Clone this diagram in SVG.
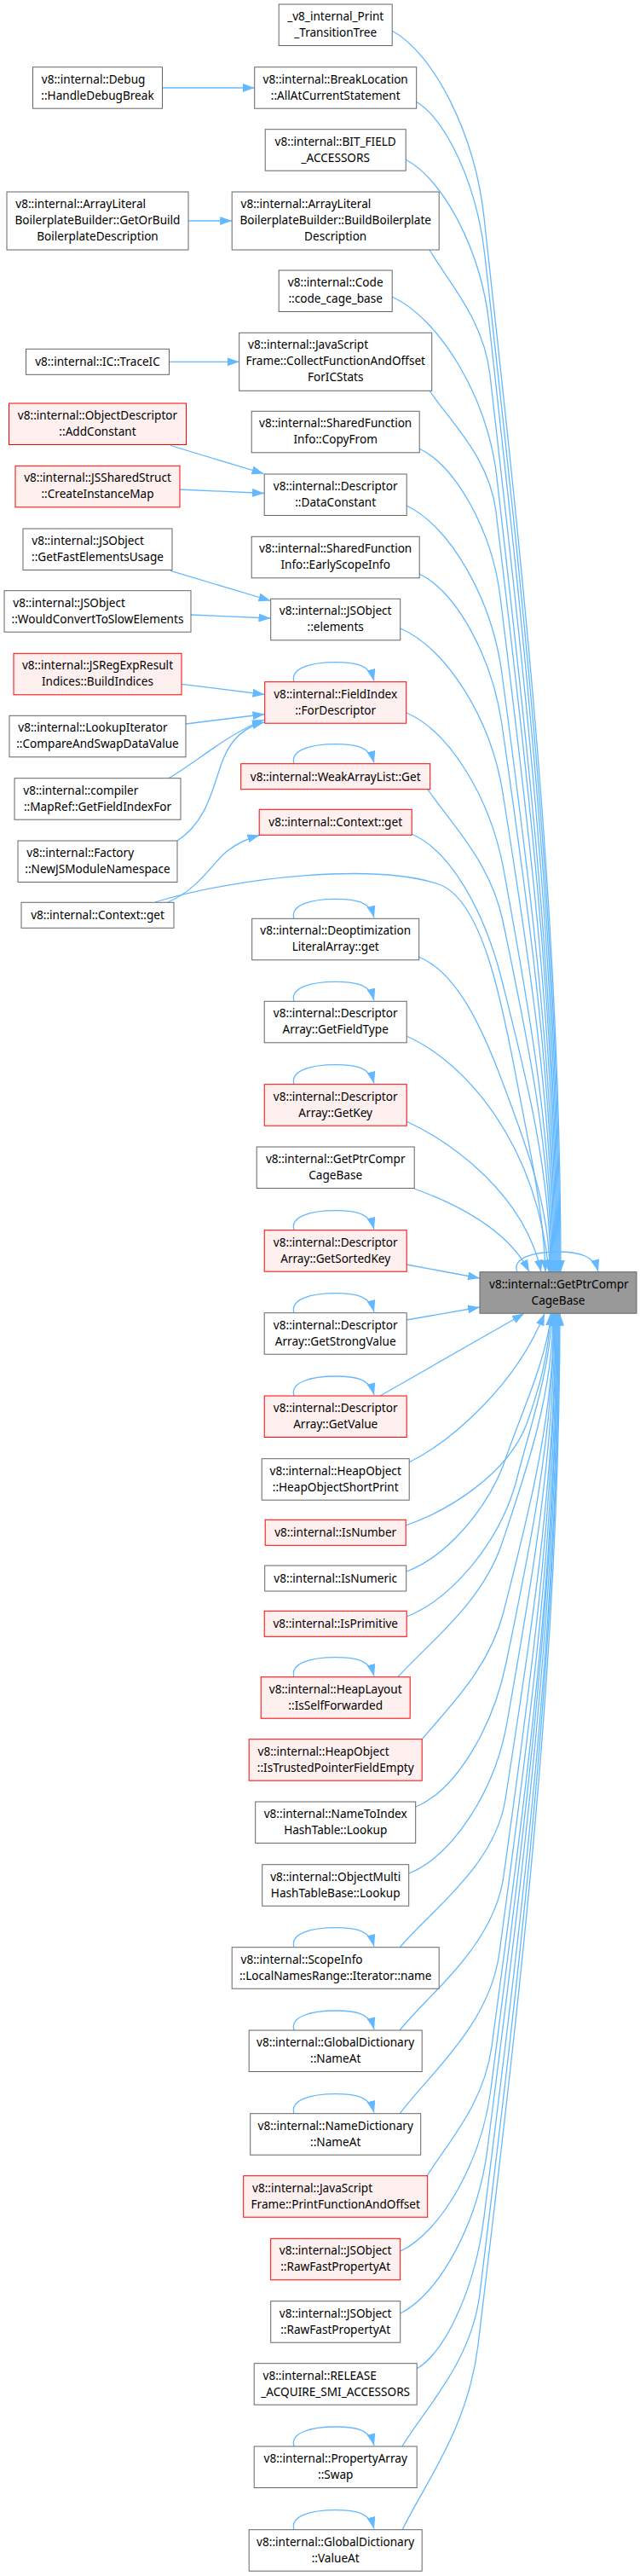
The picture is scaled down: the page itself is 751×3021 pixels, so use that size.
<svg xmlns="http://www.w3.org/2000/svg" width="751" height="3021" viewBox="0 0 751 3021">
<style>
.w{fill:#ffffff;stroke:#666666;stroke-width:1}
.r{fill:#fff0f0;stroke:#ff0000;stroke-width:1}
.m{fill:#999999;stroke:#666666;stroke-width:1}
text{font-family:"Noto Sans","Liberation Sans",sans-serif;font-size:13.6px;fill:#000000}
.c{text-anchor:middle}
.e path{fill:none;stroke:#63b8ff;stroke-width:1.3;marker-end:url(#a)}
</style>
<defs>
<marker id="a" markerUnits="userSpaceOnUse" markerWidth="14" markerHeight="10" refX="14" refY="5" orient="auto" viewBox="0 0 14 10">
<path d="M0,0 L14,5 L0,10 z" fill="#63b8ff"/>
</marker>
</defs>
<rect width="751" height="3021" fill="#ffffff"/>
<g class="e" id="connectors">
<!-- left to middle -->
<path d="M190.5,103 L298.7,103"/>
<path d="M221,259 L272.2,259"/>
<path d="M198.5,424.3 L280.7,424.3"/>
<path d="M200,522.5 L309.5,555.5"/>
<path d="M211,574 L310,578.5"/>
<path d="M200,669.3 L317.5,704.5"/>
<path d="M224,721 L317.5,725"/>
<path d="M213,802.3 L310.5,814.5"/>
<path d="M218,849 L310.5,837.5"/>
<path d="M197.5,913 C232,893 265,862 310,844"/>
<path d="M208,986 C245,962 250,920 262,890 C272,865 288,852 310,847"/>
<path d="M197,1058 C235,1042 250,1010 268,997 C280,988 292,983 304.5,979.5"/>
<!-- upper to main -->
<path d="M460,36 C508.6,62.3 557.3,156.4 568,255 C608.5,625.8 658,1058.4 658,1491.5"/>
<path d="M488,119 C524.5,140.7 560,218.5 569,300 C608.6,657.3 657,1074.1 657,1491.5"/>
<path d="M476,187 C520.1,210.2 564.4,293.1 574,380 C610.9,713.3 656,1102.1 656,1491.5"/>
<path d="M504,293 C525.3,329.8 567.5,373.8 575,440 C611,755.3 655,1123.1 655,1491.5"/>
<path d="M460,348 C515.4,373.4 572,464.6 583,560 C615,839.3 654,1165.1 654,1491.5"/>
<path d="M504,458 C527.4,493.5 574.3,536.1 582,600 C614,867.3 653,1179.1 653,1491.5"/>
<path d="M492,526 C534.8,546.9 577.4,621.7 587,700 C616.3,937.3 652,1214.1 652,1491.5"/>
<path d="M477,593 C527.4,616.6 577.2,701.3 589,790 C616.9,1000.3 651,1245.6 651,1491.5"/>
<path d="M492,673 C535.7,694.2 577.6,770.3 589,850 C616.5,1042.3 650,1266.6 650,1491.5"/>
<path d="M470,737 C524,760.2 576.3,843.1 590,930 C616.6,1098.3 649,1294.6 649,1491.5"/>
<path d="M477,836 C528.3,858.1 575.9,937.2 591,1020 C616.7,1161.3 648,1326.1 648,1491.5"/>
<path d="M502,926 C528.4,964.5 575.6,1010.7 590,1080 C615.7,1203.3 647,1347.1 647,1491.5"/>
<path d="M483,978 C530.7,998.6 569.6,1072.6 589,1150 C614.7,1252.3 646,1371.6 646,1491.5"/>
<path d="M182,1058 C280,1028 440,1012 515,1037 C565,1055 588,1170 605,1260 C620,1340 638,1420 640,1491.5"/>
<path d="M491,1122 C535.6,1139.8 565.1,1203.4 590,1270 C614.8,1336.3 645,1413.6 645,1491.5"/>
<path d="M477,1215 C545,1245 630,1340 644,1491.5"/>
<path d="M477,1315 C530,1340 615,1400 635,1491.5"/>
<path d="M486,1394 C530,1410 595,1440 621,1491.5"/>
<path d="M477,1483 L563,1499"/>
<!-- lower to main -->
<path d="M477,1548 L563,1533"/>
<path d="M446,1637 L615,1540.5"/>
<path d="M480,1715 C530,1690 605,1625 639,1540.5"/>
<path d="M476,1789 C525,1772 595,1730 618,1670 C632,1630 644,1590 646,1540.5"/>
<path d="M477,1843 C525,1825 570,1770 590,1720 C610,1660 640,1600 647,1540.5"/>
<path d="M477,1896 C530,1875 585,1810 605,1740 C620,1680 645,1610 648,1540.5"/>
<path d="M467,1966.5 C503.6,1926.2 565.6,1879.8 589,1810 C616,1729.6 649,1635.8 649,1540.5"/>
<path d="M495,2040 C524.5,2004 573.6,1958.4 591,1890 C617.6,1785.6 650,1663.8 650,1540.5"/>
<path d="M488,2119 C535.7,2098.7 578.3,2026 594,1950 C619.2,1827.6 650,1684.8 650,1540.5"/>
<path d="M480,2197 C531.8,2175.8 581,2099.7 595,2020 C620.2,1876.6 651,1709.3 651,1540.5"/>
<path d="M469,2284 C506.2,2239.8 580.9,2187.9 593,2110 C619.6,1939.6 652,1740.8 652,1540.5"/>
<path d="M469,2381 C505.6,2335.8 579.7,2281.5 591,2200 C618.5,2002.6 652,1772.3 652,1540.5"/>
<path d="M469,2479 C504.1,2431.8 574.5,2375 586,2290 C616.2,2065.6 653,1803.8 653,1540.5"/>
<path d="M501,2552 C524.2,2514 567.8,2468.4 577,2400 C611.7,2142.6 654,1842.3 654,1540.5"/>
<path d="M470,2640 C517.7,2617.2 565,2535.5 576,2450 C611.1,2177.6 654,1859.8 654,1540.5"/>
<path d="M470,2713 C515.9,2689.8 561,2606.9 572,2520 C609.4,2226.6 655,1884.3 655,1540.5"/>
<path d="M489,2778 C524.6,2756.6 558,2680.1 568,2600 C607.6,2282.6 656,1912.3 656,1540.5"/>
<path d="M472,2869 C499.3,2823.5 553.2,2770.1 563,2690 C604.9,2345.6 656,1943.8 656,1540.5"/>
<path d="M472,2967 C498.7,2912 549.4,2847.2 561,2750 C604.2,2387.6 657,1964.8 657,1540.5"/>
<!-- self loops -->
<path d="M607,1491.7 C600,1476 625,1468 655,1468 C680,1468 697,1473 702,1491"/>
<path d="M345,799.7 C340,783.7 365,776.7 394,776.7 C418,776.7 434,779.7 439,798.7"/>
<path d="M345,895.7 C340,879.7 365,872.7 394,872.7 C418,872.7 434,875.7 439,894.7"/>
<path d="M345,1077.3 C340,1061.3 365,1054.3 394,1054.3 C418,1054.3 434,1057.3 439,1076.3"/>
<path d="M345,1174.3 C340,1158.3 365,1151.3 394,1151.3 C418,1151.3 434,1154.3 439,1173.3"/>
<path d="M345,1271.7 C340,1255.7 365,1248.7 394,1248.7 C418,1248.7 434,1251.7 439,1270.7"/>
<path d="M345,1442.7 C340,1426.7 365,1419.7 394,1419.7 C418,1419.7 434,1422.7 439,1441.7"/>
<path d="M345,1539.7 C340,1523.7 365,1516.7 394,1516.7 C418,1516.7 434,1519.7 439,1538.7"/>
<path d="M345,1637 C340,1621 365,1614 394,1614 C418,1614 434,1617 439,1636"/>
<path d="M345,1966.7 C340,1950.7 365,1943.7 394,1943.7 C418,1943.7 434,1946.7 439,1965.7"/>
<path d="M345,2283.7 C340,2267.7 365,2260.7 394,2260.7 C418,2260.7 434,2263.7 439,2282.7"/>
<path d="M345,2381 C340,2365 365,2358 394,2358 C418,2358 434,2361 439,2380"/>
<path d="M345,2478.7 C340,2462.7 365,2455.7 394,2455.7 C418,2455.7 434,2458.7 439,2477.7"/>
<path d="M345,2869 C340,2853 365,2846 394,2846 C418,2846 434,2849 439,2868"/>
<path d="M345,2966.7 C340,2950.7 365,2943.7 394,2943.7 C418,2943.7 434,2946.7 439,2965.7"/>
</g>
<g id="node_main"><rect class="m" x="563" y="1491.7" width="184" height="48.5"/><text x="574" y="1510.7">v8::internal::GetPtrCompr</text><text class="c" x="655" y="1529.7">CageBase</text></g>
<g id="node_print"><rect class="w" x="327.2" y="5" width="133" height="48.5"/><text class="c" x="393.7" y="24">_v8_internal_Print</text><text class="c" x="393.7" y="43">_TransitionTree</text></g>
<g id="node_debug"><rect class="w" x="38.5" y="78.7" width="152" height="48.5"/><text x="48.8" y="97.7">v8::internal::Debug</text><text class="c" x="114.5" y="116.7">::HandleDebugBreak</text></g>
<g id="node_breakloc"><rect class="w" x="298.7" y="78.7" width="190" height="48.5"/><text class="c" x="393.7" y="97.7">v8::internal::BreakLocation</text><text class="c" x="393.7" y="116.7">::AllAtCurrentStatement</text></g>
<g id="node_bitfield"><rect class="w" x="311.2" y="151.7" width="165" height="48.5"/><text class="c" x="393.7" y="170.7">v8::internal::BIT_FIELD</text><text class="c" x="393.7" y="189.7">_ACCESSORS</text></g>
<g id="node_getorbuild"><rect class="w" x="8" y="225" width="213" height="68"/><text x="18.3" y="244">v8::internal::ArrayLiteral</text><text class="c" x="114.5" y="263">BoilerplateBuilder::GetOrBuild</text><text class="c" x="114.5" y="282">BoilerplateDescription</text></g>
<g id="node_buildboiler"><rect class="w" x="272.2" y="225" width="243" height="68"/><text x="282.5" y="244">v8::internal::ArrayLiteral</text><text class="c" x="393.7" y="263">BoilerplateBuilder::BuildBoilerplate</text><text class="c" x="393.7" y="282">Description</text></g>
<g id="node_code"><rect class="w" x="327.2" y="317" width="133" height="48.5"/><text class="c" x="393.7" y="336">v8::internal::Code</text><text class="c" x="393.7" y="355">::code_cage_base</text></g>
<g id="node_traceic"><rect class="w" x="30.5" y="409.3" width="168" height="30"/><text class="c" x="114.5" y="429.3">v8::internal::IC::TraceIC</text></g>
<g id="node_collect"><rect class="w" x="280.7" y="390.3" width="226" height="68"/><text x="291" y="409.3">v8::internal::JavaScript</text><text class="c" x="393.7" y="428.3">Frame::CollectFunctionAndOffset</text><text class="c" x="393.7" y="447.3">ForICStats</text></g>
<g id="node_addconst"><rect class="r" x="10.5" y="473" width="208" height="48.5"/><text class="c" x="114.5" y="492">v8::internal::ObjectDescriptor</text><text class="c" x="114.5" y="511">::AddConstant</text></g>
<g id="node_copyfrom"><rect class="w" x="295.2" y="482.3" width="197" height="48.5"/><text class="c" x="393.7" y="501.3">v8::internal::SharedFunction</text><text class="c" x="393.7" y="520.3">Info::CopyFrom</text></g>
<g id="node_createinst"><rect class="r" x="18" y="546.3" width="193" height="48.5"/><text class="c" x="114.5" y="565.3">v8::internal::JSSharedStruct</text><text class="c" x="114.5" y="584.3">::CreateInstanceMap</text></g>
<g id="node_dataconst"><rect class="w" x="310.2" y="556" width="167" height="48.5"/><text class="c" x="393.7" y="575">v8::internal::Descriptor</text><text class="c" x="393.7" y="594">::DataConstant</text></g>
<g id="node_getfast"><rect class="w" x="27" y="620" width="175" height="48.5"/><text x="37.3" y="639">v8::internal::JSObject</text><text class="c" x="114.5" y="658">::GetFastElementsUsage</text></g>
<g id="node_earlyscope"><rect class="w" x="295.2" y="629.3" width="197" height="48.5"/><text class="c" x="393.7" y="648.3">v8::internal::SharedFunction</text><text class="c" x="393.7" y="667.3">Info::EarlyScopeInfo</text></g>
<g id="node_wouldconvert"><rect class="w" x="5" y="692.7" width="219" height="48.5"/><text x="15.3" y="711.7">v8::internal::JSObject</text><text class="c" x="114.5" y="730.7">::WouldConvertToSlowElements</text></g>
<g id="node_elements"><rect class="w" x="317.7" y="702.3" width="152" height="48.5"/><text class="c" x="393.7" y="721.3">v8::internal::JSObject</text><text class="c" x="393.7" y="740.3">::elements</text></g>
<g id="node_buildindices"><rect class="r" x="16" y="766.3" width="197" height="48.5"/><text class="c" x="114.5" y="785.3">v8::internal::JSRegExpResult</text><text class="c" x="114.5" y="804.3">Indices::BuildIndices</text></g>
<g id="node_fordescriptor"><rect class="r" x="310.7" y="799.7" width="166" height="48.5"/><text class="c" x="393.7" y="818.7">v8::internal::FieldIndex</text><text class="c" x="393.7" y="837.7">::ForDescriptor</text></g>
<g id="node_compareswap"><rect class="w" x="11" y="839.3" width="207" height="48.5"/><text x="21.3" y="858.3">v8::internal::LookupIterator</text><text class="c" x="114.5" y="877.3">::CompareAndSwapDataValue</text></g>
<g id="node_weakarray"><rect class="r" x="282.7" y="895.7" width="222" height="30"/><text class="c" x="393.7" y="915.7">v8::internal::WeakArrayList::Get</text></g>
<g id="node_mapref"><rect class="w" x="17" y="912.7" width="195" height="48.5"/><text x="27.3" y="931.7">v8::internal::compiler</text><text class="c" x="114.5" y="950.7">::MapRef::GetFieldIndexFor</text></g>
<g id="node_ctxget_mid"><rect class="r" x="304.2" y="949.3" width="179" height="30"/><text class="c" x="393.7" y="969.3">v8::internal::Context::get</text></g>
<g id="node_factory"><rect class="w" x="21" y="986" width="187" height="48.5"/><text x="31.3" y="1005">v8::internal::Factory</text><text class="c" x="114.5" y="1024">::NewJSModuleNamespace</text></g>
<g id="node_ctxget_left"><rect class="w" x="25" y="1058.3" width="179" height="30"/><text class="c" x="114.5" y="1078.3">v8::internal::Context::get</text></g>
<g id="node_deopt"><rect class="w" x="295.7" y="1077.3" width="196" height="48.5"/><text class="c" x="393.7" y="1096.3">v8::internal::Deoptimization</text><text class="c" x="393.7" y="1115.3">LiteralArray::get</text></g>
<g id="node_getfieldtype"><rect class="w" x="310.2" y="1174.3" width="167" height="48.5"/><text class="c" x="393.7" y="1193.3">v8::internal::Descriptor</text><text class="c" x="393.7" y="1212.3">Array::GetFieldType</text></g>
<g id="node_getkey"><rect class="r" x="310.2" y="1271.7" width="167" height="48.5"/><text class="c" x="393.7" y="1290.7">v8::internal::Descriptor</text><text class="c" x="393.7" y="1309.7">Array::GetKey</text></g>
<g id="node_getptr_white"><rect class="w" x="301.2" y="1345" width="185" height="48.5"/><text class="c" x="393.7" y="1364">v8::internal::GetPtrCompr</text><text class="c" x="393.7" y="1383">CageBase</text></g>
<g id="node_getsortedkey"><rect class="r" x="310.2" y="1442.7" width="167" height="48.5"/><text class="c" x="393.7" y="1461.7">v8::internal::Descriptor</text><text class="c" x="393.7" y="1480.7">Array::GetSortedKey</text></g>
<g id="node_getstrong"><rect class="w" x="310.2" y="1539.7" width="167" height="48.5"/><text class="c" x="393.7" y="1558.7">v8::internal::Descriptor</text><text class="c" x="393.7" y="1577.7">Array::GetStrongValue</text></g>
<g id="node_getvalue"><rect class="r" x="310.2" y="1637" width="167" height="48.5"/><text class="c" x="393.7" y="1656">v8::internal::Descriptor</text><text class="c" x="393.7" y="1675">Array::GetValue</text></g>
<g id="node_shortprint"><rect class="w" x="307.2" y="1710.7" width="173" height="48.5"/><text class="c" x="393.7" y="1729.7">v8::internal::HeapObject</text><text class="c" x="393.7" y="1748.7">::HeapObjectShortPrint</text></g>
<g id="node_isnumber"><rect class="r" x="311.2" y="1782.3" width="165" height="30"/><text class="c" x="393.7" y="1802.3">v8::internal::IsNumber</text></g>
<g id="node_isnumeric"><rect class="w" x="310.7" y="1836" width="166" height="30"/><text class="c" x="393.7" y="1856">v8::internal::IsNumeric</text></g>
<g id="node_isprimitive"><rect class="r" x="310.2" y="1889.3" width="167" height="30"/><text class="c" x="393.7" y="1909.3">v8::internal::IsPrimitive</text></g>
<g id="node_isselffwd"><rect class="r" x="306.2" y="1966.7" width="175" height="48.5"/><text class="c" x="393.7" y="1985.7">v8::internal::HeapLayout</text><text class="c" x="393.7" y="2004.7">::IsSelfForwarded</text></g>
<g id="node_istrusted"><rect class="r" x="292.2" y="2039.7" width="203" height="48.5"/><text x="302.5" y="2058.7">v8::internal::HeapObject</text><text class="c" x="393.7" y="2077.7">::IsTrustedPointerFieldEmpty</text></g>
<g id="node_nametoindex"><rect class="w" x="299.7" y="2113" width="188" height="48.5"/><text class="c" x="393.7" y="2132">v8::internal::NameToIndex</text><text class="c" x="393.7" y="2151">HashTable::Lookup</text></g>
<g id="node_objectmulti"><rect class="w" x="307.7" y="2186.7" width="172" height="48.5"/><text class="c" x="393.7" y="2205.7">v8::internal::ObjectMulti</text><text class="c" x="393.7" y="2224.7">HashTableBase::Lookup</text></g>
<g id="node_scopeinfo"><rect class="w" x="272.2" y="2283.7" width="243" height="48.5"/><text x="282.5" y="2302.7">v8::internal::ScopeInfo</text><text class="c" x="393.7" y="2321.7">::LocalNamesRange::Iterator::name</text></g>
<g id="node_globaldict_nameat"><rect class="w" x="292.2" y="2381" width="203" height="48.5"/><text class="c" x="393.7" y="2400">v8::internal::GlobalDictionary</text><text class="c" x="393.7" y="2419">::NameAt</text></g>
<g id="node_namedict_nameat"><rect class="w" x="293.7" y="2478.7" width="200" height="48.5"/><text class="c" x="393.7" y="2497.7">v8::internal::NameDictionary</text><text class="c" x="393.7" y="2516.7">::NameAt</text></g>
<g id="node_printfunc"><rect class="r" x="285.7" y="2551.7" width="216" height="48.5"/><text x="296" y="2570.7">v8::internal::JavaScript</text><text class="c" x="393.7" y="2589.7">Frame::PrintFunctionAndOffset</text></g>
<g id="node_rawfast_red"><rect class="r" x="317.7" y="2625.3" width="152" height="48.5"/><text class="c" x="393.7" y="2644.3">v8::internal::JSObject</text><text class="c" x="393.7" y="2663.3">::RawFastPropertyAt</text></g>
<g id="node_rawfast_white"><rect class="w" x="317.7" y="2698.7" width="152" height="48.5"/><text class="c" x="393.7" y="2717.7">v8::internal::JSObject</text><text class="c" x="393.7" y="2736.7">::RawFastPropertyAt</text></g>
<g id="node_release"><rect class="w" x="298.2" y="2771.7" width="191" height="48.5"/><text x="308.5" y="2790.7">v8::internal::RELEASE</text><text class="c" x="393.7" y="2809.7">_ACQUIRE_SMI_ACCESSORS</text></g>
<g id="node_swap"><rect class="w" x="298.2" y="2869" width="191" height="48.5"/><text class="c" x="393.7" y="2888">v8::internal::PropertyArray</text><text class="c" x="393.7" y="2907">::Swap</text></g>
<g id="node_valueat"><rect class="w" x="292.2" y="2966.7" width="203" height="48.5"/><text class="c" x="393.7" y="2985.7">v8::internal::GlobalDictionary</text><text class="c" x="393.7" y="3004.7">::ValueAt</text></g>
</svg>
